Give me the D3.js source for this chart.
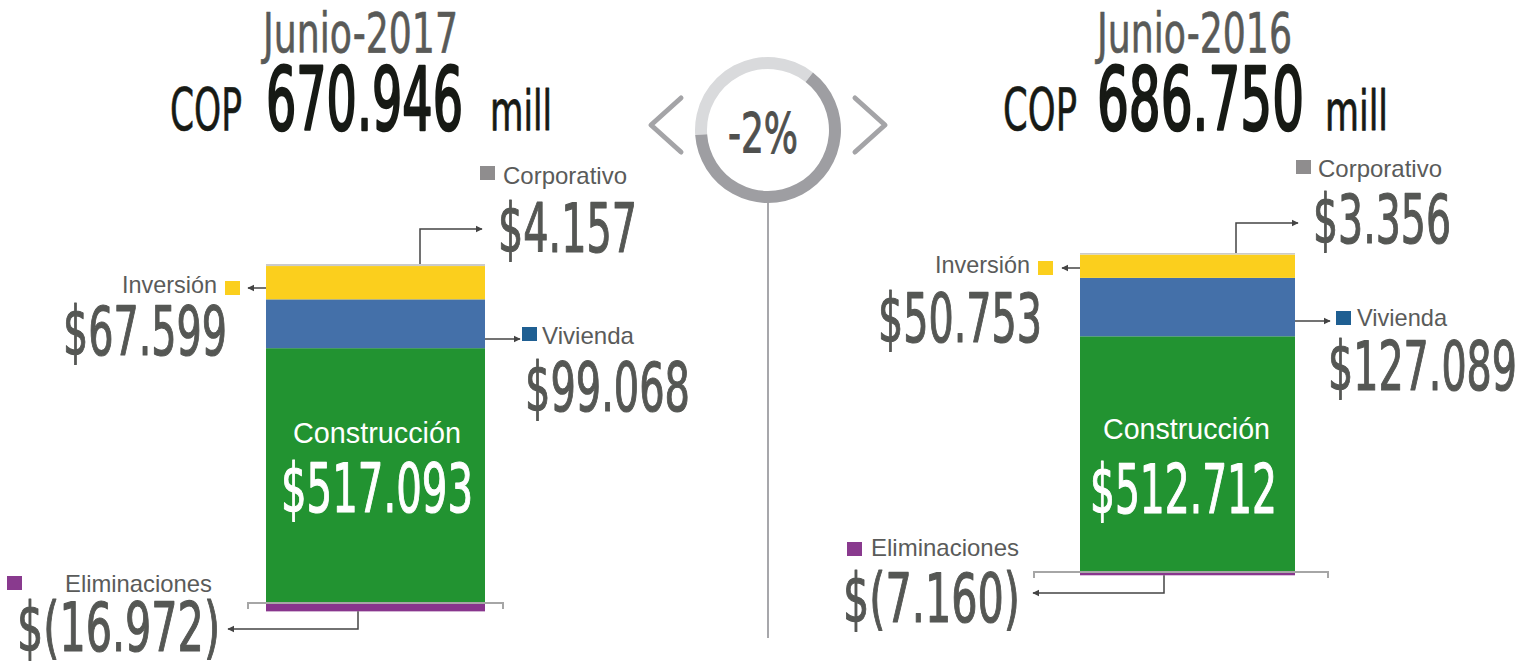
<!DOCTYPE html>
<html><head><meta charset="utf-8">
<script src="https://cdn.jsdelivr.net/npm/d3@7"></script>
<style>html,body{margin:0;padding:0;background:#fff;} svg{display:block;}</style>
</head><body><svg id="chart" width="1536" height="662"></svg>
<script>
// ---------------- DATA ----------------
const periods = ["Junio-2017", "Junio-2016"];
const totalLabels = ["670.946", "686.750"];
const segments = ["Corporativo", "Inversión", "Vivienda", "Construcción", "Eliminaciones"];
const values2017 = [4157, 67599, 99068, 517093, -16972];
const values2016 = [3356, 50753, 127089, 512712, -7160];
const changeLabel = "-2%";
const currencyLabel = "COP";
const unitLabel = "mill";

// ---------------- STYLE ----------------
const barColors = {"Corporativo":"#cbcbcb","Inversión":"#fbcf1d","Vivienda":"#4470a9","Construcción":"#229331","Eliminaciones":"#88358d"};
const keyColors = {"Corporativo":"#8f8d8e","Inversión":"#fbcf1d","Vivienda":"#1f5f92","Construcción":"#229331","Eliminaciones":"#893a8e"};
const condFont = "'Liberation Sans Narrow','DejaVu Sans Condensed','Roboto','Liberation Sans',sans-serif";
const textFont = "'Liberation Sans','Helvetica',Arial,sans-serif";
const grayText = "#565855";
const darkText = "#171a15";

const loc = d3.formatLocale({decimal: ",", thousands: ".", grouping: [3], currency: ["$", ""]});
const fmt = loc.format(",");
const money = v => v < 0 ? "$(" + fmt(-v) + ")" : "$" + fmt(v);

// ---------------- LAYOUT ----------------
const layouts = [
  {
    title: {x0: 263, x1: 458, base: 52},
    cop: {x0: 170, x1: 242}, total: {x0: 266, x1: 463}, mill: {x0: 490, x1: 552}, base2: 130,
    bar: {x0: 266, x1: 485, top: 264, base: 603},
    corp: {sq: [480, 166], name: [503, 627, 184], val: [498, 637, 252], connX: 420, connY: 229, tip: 482},
    inv: {sq: [225, 281], name: [122, 217, 293], val: [63, 227, 355], arrowY: 288, tip: 248},
    viv: {sq: [522, 327], name: [542, 634, 344], val: [525, 690, 411], arrowY: 339, tip: 520},
    con: {name: [293, 461, 443], val: [281, 473, 512]},
    elim: {sq: [7, 576], name: [65, 212, 592], val: [17, 220, 651], connX: 358, connY: 629, tip: 228},
    bracket: {x0: 248, x1: 503}
  },
  {
    title: {x0: 1097, x1: 1292, base: 52},
    cop: {x0: 1003, x1: 1077}, total: {x0: 1097, x1: 1304}, mill: {x0: 1325, x1: 1388}, base2: 130,
    bar: {x0: 1080, x1: 1295, top: 253, base: 572},
    corp: {sq: [1296, 160], name: [1318, 1442, 177], val: [1313, 1451, 243], connX: 1236, connY: 223, tip: 1298},
    inv: {sq: [1038, 261], name: [935, 1030, 273], val: [878, 1042, 342], arrowY: 268, tip: 1062},
    viv: {sq: [1336, 311], name: [1357, 1447, 326], val: [1328, 1517, 390], arrowY: 321, tip: 1330},
    con: {name: [1103, 1270, 439], val: [1090, 1277, 513]},
    elim: {sq: [847, 542], name: [871, 1019, 556], val: [843, 1020, 622], connX: 1164, connY: 593, tip: 1033},
    bracket: {x0: 1034, x1: 1328}
  }
];

const svg = d3.select("#chart");
const defs = svg.append("defs");
defs.append("marker").attr("id", "arr").attr("viewBox", "0 0 10 10")
  .attr("refX", 9).attr("refY", 5).attr("markerWidth", 7).attr("markerHeight", 8)
  .attr("markerUnits", "userSpaceOnUse").attr("orient", "auto")
  .append("path").attr("d", "M0,0 L10,5 L0,10 Z").attr("fill", "#444");

function fitText(g, str, x0, x1, base, size, opts = {}) {
  const fill = opts.fill || grayText;
  const t = g.append("text")
    .attr("x", x0).attr("y", base)
    .attr("textLength", x1 - x0).attr("lengthAdjust", "spacingAndGlyphs")
    .attr("font-family", opts.family || condFont)
    .attr("font-size", size)
    .attr("font-weight", opts.weight || "normal")
    .attr("fill", fill)
    .text(str);
  if (opts.stroke) t.attr("stroke", fill).attr("stroke-width", opts.stroke).attr("stroke-linejoin", "round");
  return t;
}

const panelData = [values2017, values2016];

panelData.forEach((vals, pi) => {
  const L = layouts[pi];
  const g = svg.append("g");
  const rows = segments.map((s, i) => ({seg: s, value: vals[i]}));
  const pos = rows.filter(r => r.value >= 0);
  const neg = rows.filter(r => r.value < 0);
  const posTotal = d3.sum(pos, r => r.value);

  // stacking: Construcción at bottom, upward Vivienda, Inversión, Corporativo
  const order = pos.slice().reverse();
  let acc = 0;
  order.forEach(r => { r.y0 = acc; acc += r.value; r.y1 = acc; });
  let nacc = 0;
  neg.forEach(r => { r.y1 = nacc; nacc += r.value; r.y0 = nacc; });

  const y = d3.scaleLinear().domain([0, posTotal]).range([L.bar.base, L.bar.top]);
  const x = d3.scaleBand().domain([periods[pi]]).range([L.bar.x0, L.bar.x1]).padding(0);

  // titles
  fitText(g, periods[pi], L.title.x0, L.title.x1, L.title.base, 55, {fill: "#595a58", stroke: 0.6});
  fitText(g, currencyLabel, L.cop.x0, L.cop.x1, L.base2, 58, {fill: darkText, stroke: 0.6});
  fitText(g, totalLabels[pi], L.total.x0, L.total.x1, L.base2, 87, {fill: darkText, stroke: 2.6});
  fitText(g, unitLabel, L.mill.x0, L.mill.x1, L.base2, 55, {fill: darkText, stroke: 0.8});

  // bars
  g.selectAll("rect.seg").data(order.concat(neg)).join("rect")
    .attr("class", "seg")
    .attr("x", x(periods[pi])).attr("width", x.bandwidth())
    .attr("y", d => y(d.y1)).attr("height", d => y(d.y0) - y(d.y1))
    .attr("fill", d => barColors[d.seg]);

  // baseline bracket
  const by = y(0);
  g.append("path")
    .attr("d", `M${L.bracket.x0},${by + 6} V${by} H${L.bracket.x1} V${by + 6}`)
    .attr("fill", "none").attr("stroke", "#a6a6a6").attr("stroke-width", 2);

  const byName = Object.fromEntries(rows.map(r => [r.seg, r]));
  const line = (d) => g.append("path").attr("d", d).attr("fill", "none")
    .attr("stroke", "#444").attr("stroke-width", 1.5).attr("marker-end", "url(#arr)");
  const square = (xy, seg) => g.append("rect").attr("x", xy[0]).attr("y", xy[1])
    .attr("width", 15).attr("height", 14).attr("fill", keyColors[seg]);
  const name = (a, seg) => fitText(g, seg, a[0], a[1], a[2], 24, {family: textFont, fill: "#5a5b5a"});
  const valueText = (a, seg, fill) => fitText(g, money(byName[seg].value), a[0], a[1], a[2], 68, {fill: fill || "#555754", stroke: 1.2});

  // Corporativo
  const corp = byName["Corporativo"];
  line(`M${L.corp.connX},${y(corp.y1)} V${L.corp.connY} H${L.corp.tip}`);
  square(L.corp.sq, "Corporativo");
  name(L.corp.name, "Corporativo");
  valueText(L.corp.val, "Corporativo");

  // Inversión
  line(`M${L.bar.x0},${L.inv.arrowY} H${L.inv.tip}`);
  square(L.inv.sq, "Inversión");
  name(L.inv.name, "Inversión");
  valueText(L.inv.val, "Inversión");

  // Vivienda
  line(`M${L.bar.x1},${L.viv.arrowY} H${L.viv.tip}`);
  square(L.viv.sq, "Vivienda");
  name(L.viv.name, "Vivienda");
  valueText(L.viv.val, "Vivienda");

  // Construcción (inside the bar)
  fitText(g, "Construcción", L.con.name[0], L.con.name[1], L.con.name[2], 29, {family: textFont, fill: "#ffffff"});
  valueText(L.con.val, "Construcción", "#ffffff");

  // Eliminaciones
  const elim = byName["Eliminaciones"];
  line(`M${L.elim.connX},${y(elim.y0)} V${L.elim.connY} H${L.elim.tip}`);
  square(L.elim.sq, "Eliminaciones");
  name(L.elim.name, "Eliminaciones");
  valueText(L.elim.val, "Eliminaciones");
});

// ---------------- CENTER BADGE ----------------
const cx = 768, cy = 130;
const badge = svg.append("g").attr("transform", `translate(${cx},${cy})`);
const arc = d3.arc().innerRadius(61).outerRadius(73);
const deg = Math.PI / 180;
badge.append("path").attr("d", arc({startAngle: 266 * deg, endAngle: 398 * deg})).attr("fill", "#d9dadc");
badge.append("path").attr("d", arc({startAngle: 38 * deg, endAngle: 266 * deg})).attr("fill", "#9e9ea2");
badge.append("text").attr("x", -40).attr("y", 22)
  .attr("textLength", 70).attr("lengthAdjust", "spacingAndGlyphs")
  .attr("font-family", condFont).attr("font-size", 56).attr("fill", "#4f504e")
  .attr("stroke", "#4f504e").attr("stroke-width", 1)
  .text(changeLabel);

svg.append("path").attr("d", "M681,98 L651,125 L681,152")
  .attr("fill", "none").attr("stroke", "#a4a4a7").attr("stroke-width", 5)
  .attr("stroke-linecap", "round").attr("stroke-linejoin", "round");
svg.append("path").attr("d", "M855,98 L885,125 L855,152")
  .attr("fill", "none").attr("stroke", "#a4a4a7").attr("stroke-width", 5)
  .attr("stroke-linecap", "round").attr("stroke-linejoin", "round");

svg.append("line").attr("x1", cx).attr("x2", cx).attr("y1", cy + 73).attr("y2", 638)
  .attr("stroke", "#a7a7ab").attr("stroke-width", 2);
</script>
</body></html>
